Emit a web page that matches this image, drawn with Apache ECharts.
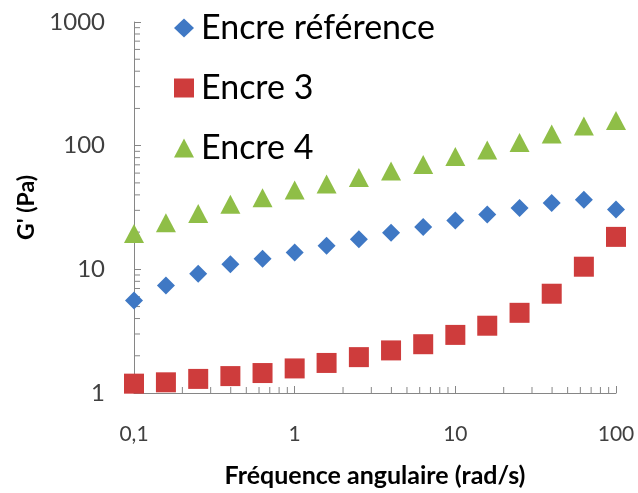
<!DOCTYPE html>
<html>
<head>
<meta charset="utf-8">
<script src="https://cdn.jsdelivr.net/npm/echarts@6/dist/echarts.min.js"></script>
<style>html,body{margin:0;padding:0;background:#fff}#c{width:638px;height:493px}</style>
</head>
<body>
<div id="c"></div>
<script>
const frequencies = [0.1, 0.158, 0.251, 0.398, 0.631, 1, 1.58, 2.51, 3.98, 6.31, 10, 15.8, 25.1, 39.8, 63.1, 100];
const encreReference = [5.6, 7.4, 9.2, 11.0, 12.2, 13.7, 15.5, 17.5, 19.8, 22.0, 24.8, 27.7, 31.3, 34.4, 36.5, 30.4];
const encre3 = [1.19, 1.22, 1.30, 1.37, 1.45, 1.58, 1.75, 1.95, 2.21, 2.48, 2.95, 3.50, 4.45, 6.35, 10.5, 18.3];
const encre4 = [19.5, 23.8, 28.3, 33.6, 38.0, 43.9, 49.0, 55.3, 62.5, 70.3, 81.7, 92.3, 106, 124, 144, 160];
const seriesNames = ['Encre référence', 'Encre 3', 'Encre 4'];
const xMinorTicks = [0.2,0.3,0.4,0.5,0.6,0.7,0.8,0.9,2,3,4,5,6,7,8,9,20,30,40,50,60,70,80,90];
const yMinorTicks = [2,3,4,5,6,7,8,9,20,30,40,50,60,70,80,90,200,300,400,500,600,700,800,900];
const xMin = 0.1, xMax = 100, yMin = 1, yMax = 1000;

const FONT = 'Lato';
const AXIS = '#868686';
const pair = (xs, ys) => xs.map((x, i) => [x, ys[i]]);
const fmt = v => String(+Number(v).toPrecision(3)).replace('.', ',');

const chart = echarts.init(document.getElementById('c'), null, {renderer: 'canvas'});
chart.setOption({
  animation: false,
  backgroundColor: '#fff',
  textStyle: {fontFamily: FONT},
  grid: {left: 134, right: 22, top: 22, bottom: 96, containLabel: false},
  legend: {
    data: seriesNames,
    orient: 'vertical',
    left: 169, top: 6,
    itemWidth: 20, itemHeight: 19, itemGap: 26,
    textStyle: {fontFamily: FONT, fontSize: 34, color: '#000', lineHeight: 34, padding: [0,0,0,2]}
  },
  xAxis: {
    type: 'log', logBase: 10, min: xMin, max: xMax,
    name: 'Fréquence angulaire (rad/s)', nameLocation: 'middle', nameGap: 70,
    nameTextStyle: {fontFamily: FONT, fontWeight: 'bold', fontSize: 25, color: '#000'},
    axisLine: {show: true, onZero: false, lineStyle: {color: AXIS, width: 1}},
    axisTick: {show: true, inside: true, length: 7, lineStyle: {color: AXIS}},
    axisLabel: {formatter: fmt, margin: 31, fontFamily: FONT, fontSize: 21, color: '#404040'},
    splitLine: {show: false}
  },
  yAxis: {
    type: 'log', logBase: 10, min: yMin, max: yMax,
    name: "G' (Pa)", nameLocation: 'middle', nameGap: 95, nameRotate: 90,
    nameTextStyle: {fontFamily: FONT, fontWeight: 'bold', fontSize: 23, color: '#000'},
    axisLine: {show: true, onZero: false, lineStyle: {color: AXIS, width: 1}},
    axisTick: {show: true, inside: true, length: 7, lineStyle: {color: AXIS}},
    axisLabel: {formatter: fmt, margin: 29, fontFamily: FONT, fontSize: 24, color: '#404040'},
    splitLine: {show: false}
  },
  series: [
    {
      type: 'custom', silent: true, clip: false, z: 1,
      data: xMinorTicks.map(v => [v, yMin]),
      renderItem: (params, api) => {
        const p = api.coord([api.value(0), yMin]);
        return {type: 'line', shape: {x1: p[0], y1: p[1], x2: p[0], y2: p[1] - 6}, style: {stroke: AXIS, lineWidth: 1}};
      }
    },
    {
      type: 'custom', silent: true, clip: false, z: 1,
      data: yMinorTicks.map(v => [xMin, v]),
      renderItem: (params, api) => {
        const p = api.coord([xMin, api.value(1)]);
        return {type: 'line', shape: {x1: p[0], y1: p[1], x2: p[0] + 6, y2: p[1]}, style: {stroke: AXIS, lineWidth: 1}};
      }
    },
    {name: seriesNames[0], type: 'scatter', symbol: 'diamond', symbolSize: 18, z: 3,
     itemStyle: {color: '#3F78C4', opacity: 1}, data: pair(frequencies, encreReference)},
    {name: seriesNames[1], type: 'scatter', symbol: 'rect', symbolSize: 20, z: 3,
     itemStyle: {color: '#CE3C3C', opacity: 1}, data: pair(frequencies, encre3)},
    {name: seriesNames[2], type: 'scatter', symbol: 'triangle', symbolSize: [20, 19], z: 3,
     itemStyle: {color: '#8FBE47', opacity: 1}, data: pair(frequencies, encre4)}
  ]
});
</script>
</body>
</html>
